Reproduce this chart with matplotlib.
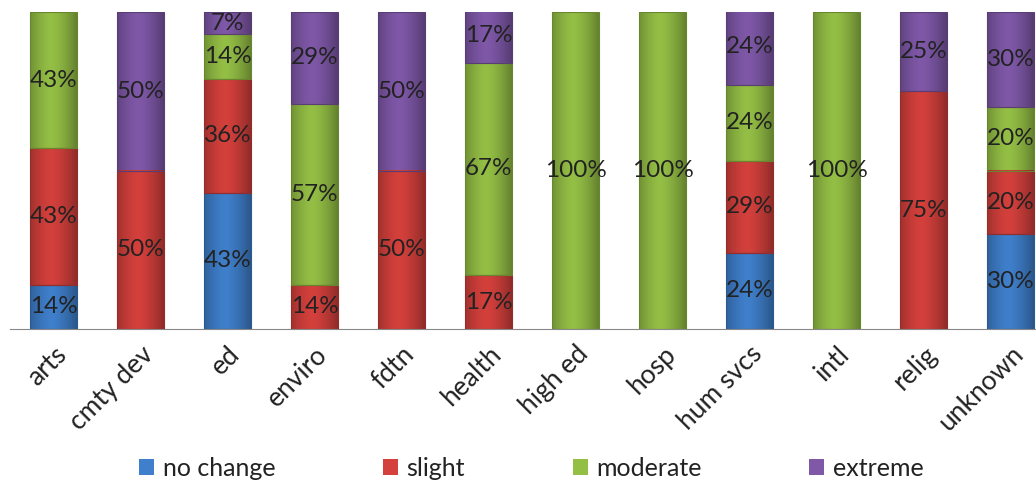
import matplotlib.pyplot as plt
import matplotlib.colors as mcolors
from matplotlib.patches import Rectangle
import numpy as np

plt.rcParams['font.family'] = ['Lato', 'DejaVu Sans']

categories = ['arts', 'cmty dev', 'ed', 'enviro', 'fdtn', 'health',
              'high ed', 'hosp', 'hum svcs', 'intl', 'relig', 'unknown']
no_change = [14, 0, 43, 0, 0, 0, 0, 0, 24, 0, 0, 30]
slight = [43, 50, 36, 14, 50, 17, 0, 0, 29, 0, 75, 20]
moderate = [43, 0, 14, 57, 0, 67, 100, 100, 24, 100, 0, 20]
extreme = [0, 50, 7, 29, 50, 17, 0, 0, 24, 0, 25, 30]
series_names = ['no change', 'slight', 'moderate', 'extreme']
series = [no_change, slight, moderate, extreme]
colors = ['#3f7fcb', '#d4403c', '#94bf45', '#7f58a8']

fig = plt.figure(figsize=(10.36, 4.83), dpi=100)
# axes runs off the right edge like the original
ax = fig.add_axes([10 / 1036, 1 - 329 / 483, 1044 / 1036, 317 / 483])

x = np.arange(len(categories))
width = 0.53


def shade(color, n=64):
    # horizontal bevel look: dark edges, light middle
    base = np.array(mcolors.to_rgb(color))
    t = np.linspace(0, 1, n)
    f = 1 - 0.28 * np.abs(t - 0.45) ** 1.5 * 2.8
    f = np.clip(f, 0.6, 1.08)
    rows = np.clip(base[None, :] * f[:, None], 0, 1)
    return rows[None, :, :]


bottom = np.zeros(len(categories))
for name, vals, col in zip(series_names, series, colors):
    vals = np.array(vals, dtype=float)
    bars = ax.bar(x, vals, width, bottom=bottom, color=col, label=name,
                  edgecolor='none', zorder=2)
    for b, v in zip(bars, vals):
        if v <= 0:
            continue
        x0, y0 = b.get_x(), b.get_y()
        ax.imshow(shade(col), extent=(x0, x0 + width, y0, y0 + v),
                  aspect='auto', zorder=2.5, interpolation='bilinear')
        # thin darker outline
        ax.add_patch(Rectangle((x0, y0), width, v, fill=False,
                               edgecolor=np.array(mcolors.to_rgb(col)) * 0.7,
                               lw=0.8, zorder=3))
        ax.text(b.get_x() + width / 2, y0 + v / 2, f'{int(v)}%',
                ha='center', va='center', fontsize=17.5, color='#222222',
                zorder=4)
    bottom += vals

ax.set_xlim(-0.5, 11.5)
ax.set_ylim(0, 100)
for s in ['top', 'right', 'left']:
    ax.spines[s].set_visible(False)
ax.spines['bottom'].set_color('#888888')
ax.set_yticks([])
ax.set_xticks(x)
ax.set_xticklabels(categories, rotation=45, ha='right', rotation_mode='anchor',
                   fontsize=19, color='#222222')
ax.tick_params(axis='x', length=0, pad=9)

handles, labels = ax.get_legend_handles_labels()
fig.legend(handles, labels, loc='center', bbox_to_anchor=(0.513, 1 - 468 / 483),
           ncol=4, frameon=False, fontsize=18, handlelength=0.6,
           handleheight=0.6, handletextpad=0.35, columnspacing=4.3,
           labelcolor='#222222')

fig.savefig('out.png', dpi=100)
